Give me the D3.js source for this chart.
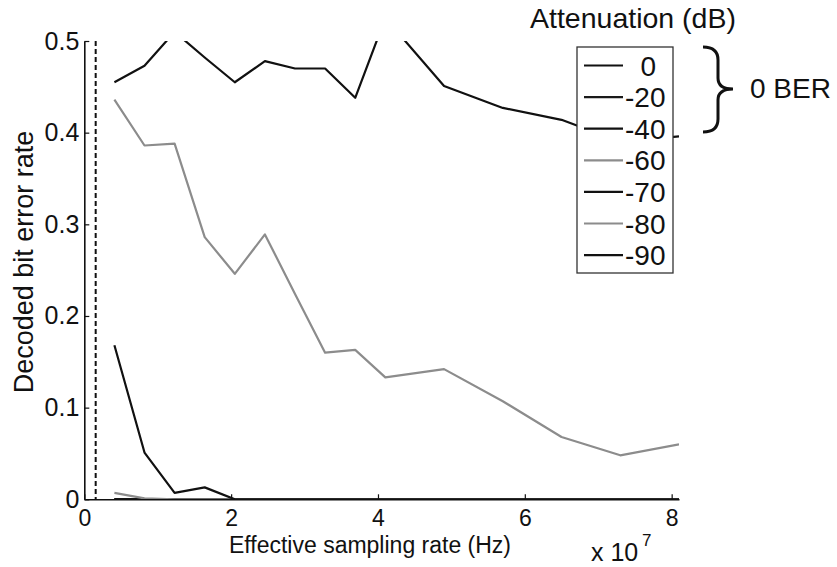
<!DOCTYPE html>
<html>
<head>
<meta charset="utf-8">
<script src="https://cdn.jsdelivr.net/npm/d3@7"></script>
<style>
  body { margin: 0; background: #fff; }
  svg text { font-family: "Liberation Sans", Arial, sans-serif; fill: #111; }
</style>
</head>
<body>
<div id="chart"></div>
<script>
// effective sampling rate, in units of 1e7 Hz
var rate = [0.41, 0.82, 1.23, 1.64, 2.05, 2.46, 2.87, 3.28, 3.69, 4.1, 4.9, 5.7, 6.5, 7.3, 8.1];

// decoded bit error rate per attenuation level
var ber0  = [0, 0, 0, 0, 0, 0, 0, 0, 0, 0, 0, 0, 0, 0, 0];
var ber20 = [0, 0, 0, 0, 0, 0, 0, 0, 0, 0, 0, 0, 0, 0, 0];
var ber40 = [0, 0, 0, 0, 0, 0, 0, 0, 0, 0, 0, 0, 0, 0, 0];
var ber60 = [0.007, 0.001, 0, 0, 0, 0, 0, 0, 0, 0, 0, 0, 0, 0, 0];
var ber70 = [0.168, 0.051, 0.007, 0.013, 0, 0, 0, 0, 0, 0, 0, 0, 0, 0, 0];
var ber80 = [0.436, 0.386, 0.388, 0.286, 0.246, 0.289, 0.224, 0.160, 0.163, 0.133, 0.142, 0.107, 0.068, 0.048, 0.060];
var ber90 = [0.455, 0.473, 0.51, 0.482, 0.455, 0.478, 0.470, 0.470, 0.438, 0.525, 0.451, 0.427, 0.414, 0.39, 0.396];

var attenuation = ["  0", "-20", "-40", "-60", "-70", "-80", "-90"];
var xTicks = [0, 2, 4, 6, 8];
var yTicks = [0, 0.1, 0.2, 0.3, 0.4, 0.5];
var markerRate = 0.155; // dashed vertical marker

drawChart();

function drawChart() {
    var series = [ber0, ber20, ber40, ber60, ber70, ber80, ber90];
    var colors = ["#111", "#1a1a1a", "#111", "#8c8c8c", "#111", "#8c8c8c", "#111"];

    var width = 837, height = 567;
    var plotLeft = 84.3, plotRight = 679, plotTop = 41, plotBottom = 499.3;

    var svg = d3.select("#chart").append("svg")
        .attr("width", width)
        .attr("height", height);

    var x = d3.scaleLinear().domain([0, 8.1]).range([plotLeft, plotRight]);
    var y = d3.scaleLinear().domain([0, 0.5]).range([plotBottom, plotTop]);

    svg.append("defs").append("clipPath").attr("id", "plot-clip")
        .append("rect")
        .attr("x", plotLeft).attr("y", plotTop)
        .attr("width", plotRight - plotLeft).attr("height", plotBottom - plotTop);

    // dashed marker
    svg.append("line")
        .attr("x1", x(markerRate)).attr("x2", x(markerRate))
        .attr("y1", y(0.5)).attr("y2", y(0))
        .attr("stroke", "#111")
        .attr("stroke-width", 2)
        .attr("stroke-dasharray", "5,3");

    var line = d3.line()
        .x(function(d, i) { return x(rate[i]); })
        .y(function(d) { return y(d); });

    svg.append("g").attr("clip-path", "url(#plot-clip)")
        .selectAll("path")
        .data(series)
        .join("path")
        .attr("d", line)
        .attr("fill", "none")
        .attr("stroke", function(d, i) { return colors[i]; })
        .attr("stroke-width", 2.2)
        .attr("stroke-linejoin", "round");

    var fmt = function(d) { return d === 0 ? "0" : (Number.isInteger(d) ? d : d.toFixed(1)); };

    var xAxis = svg.append("g")
        .attr("transform", "translate(0," + plotBottom + ")")
        .call(d3.axisBottom(x).tickValues(xTicks).tickSizeInner(-5).tickSizeOuter(0).tickPadding(10).tickFormat(fmt));

    var yAxis = svg.append("g")
        .attr("transform", "translate(" + plotLeft + ",0)")
        .call(d3.axisLeft(y).tickValues(yTicks).tickSizeInner(-5).tickSizeOuter(0).tickPadding(5).tickFormat(fmt));

    [xAxis, yAxis].forEach(function(g) {
        g.select(".domain").attr("stroke", "#111").attr("stroke-width", 1.6);
        g.selectAll(".tick line").attr("stroke", "#111").attr("stroke-width", 1.2);
        g.selectAll(".tick text")
            .attr("fill", "#111")
            .style("font-family", '"Liberation Sans", Arial, sans-serif');
    });
    yAxis.selectAll(".tick text").style("font-size", "25px");
    xAxis.selectAll(".tick text").style("font-size", "23px");

    // axis labels
    svg.append("text")
        .attr("x", 370).attr("y", 552.5)
        .attr("text-anchor", "middle")
        .style("font-size", "23px")
        .text("Effective sampling rate (Hz)");

    svg.append("text")
        .attr("transform", "translate(33,262) rotate(-90)")
        .attr("text-anchor", "middle")
        .style("font-size", "27px")
        .text("Decoded bit error rate");

    svg.append("text")
        .attr("x", 591).attr("y", 561)
        .style("font-size", "25px")
        .text("x 10");
    svg.append("text")
        .attr("x", 642).attr("y", 546)
        .style("font-size", "17px")
        .text("7");

    // legend
    svg.append("text")
        .attr("x", 530).attr("y", 28)
        .style("font-size", "28.5px")
        .text("Attenuation (dB)");

    var lg = svg.append("g");
    lg.append("rect")
        .attr("x", 577).attr("y", 47)
        .attr("width", 96).attr("height", 226)
        .attr("fill", "#fff")
        .attr("stroke", "#333")
        .attr("stroke-width", 1.3);

    var items = lg.selectAll(".item")
        .data(attenuation)
        .join("g")
        .attr("class", "item")
        .attr("transform", function(d, i) { return "translate(0," + (65.5 + i * 31.6) + ")"; });

    items.append("line")
        .attr("x1", 584).attr("x2", 623)
        .attr("stroke", function(d, i) { return colors[i]; })
        .attr("stroke-width", 2.2);

    items.append("text")
        .attr("x", 625)
        .attr("dy", "0.36em")
        .style("font-size", "28px")
        .style("white-space", "pre")
        .text(function(d) { return d; });

    // brace grouping the zero-error levels
    svg.append("path")
        .attr("d", "M703,47 Q718,47 718,60 L718,78 Q718,89 733,89 Q718,89 718,100 L718,119 Q718,132 703,132")
        .attr("fill", "none")
        .attr("stroke", "#111")
        .attr("stroke-width", 3);

    svg.append("text")
        .attr("x", 750).attr("y", 98)
        .style("font-size", "28px")
        .text("0 BER");
}
</script>
</body>
</html>
